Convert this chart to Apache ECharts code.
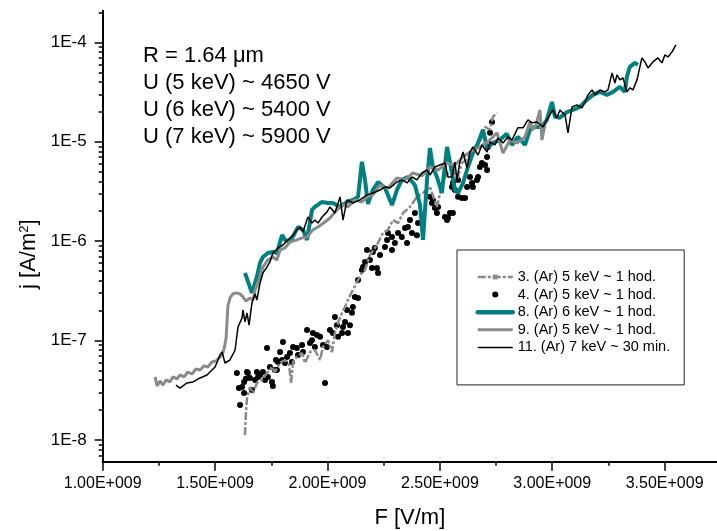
<!DOCTYPE html>
<html><head><meta charset="utf-8">
<script src="https://cdn.jsdelivr.net/npm/echarts@6/dist/echarts.min.js"></script>
<style>html,body{margin:0;padding:0;background:#fff}#c{width:717px;height:531px}</style>
</head><body><div id="c"></div>
<script>
const FONT = '"Liberation Sans", Arial, sans-serif';

const seriesNames = ['3. (Ar) 5 keV ~ 1 hod.', '4. (Ar) 5 keV ~ 1 hod.', '8. (Ar) 6 keV ~ 1 hod.', '9. (Ar) 5 keV ~ 1 hod.', '11. (Ar) 7 keV ~ 30 min.'];
const annotationLines = ['R = 1.64 \u03bcm', 'U (5 keV) ~ 4650 V', 'U (6 keV) ~ 5400 V', 'U (7 keV) ~ 5900 V'];

const xMajorTicks = [1.0e9, 1.5e9, 2.0e9, 2.5e9, 3.0e9, 3.5e9];
const xMinorTicks = [1.25e9, 1.75e9, 2.25e9, 2.75e9, 3.25e9];
const yMajorTicks = [1e-8, 1e-7, 1e-6, 1e-5, 1e-4];
const yMinorTicks = [6e-9, 7e-9, 8e-9, 9e-9,
  2e-8, 3e-8, 4e-8, 5e-8, 6e-8, 7e-8, 8e-8, 9e-8,
  2e-7, 3e-7, 4e-7, 5e-7, 6e-7, 7e-7, 8e-7, 9e-7,
  2e-6, 3e-6, 4e-6, 5e-6, 6e-6, 7e-6, 8e-6, 9e-6,
  2e-5, 3e-5, 4e-5, 5e-5, 6e-5, 7e-5, 8e-5, 9e-5, 2e-4];

// Series 3 (gray dash-dot), F in units of 1e9 V/m
const s3F = [1.633,1.637,1.642,1.655,1.669,1.686,1.709,1.731,1.744,1.753,1.766,1.789,1.811,1.829,1.838,1.847,1.864,1.887,1.900,1.922,1.944,1.967,1.980,2.002,2.020,2.033,2.047,2.065,2.078,2.091,2.113,2.136,2.153,2.167,2.189,2.220,2.247,2.269,2.291,2.314,2.336,2.367,2.398,2.425,2.456,2.487,2.514,2.536,2.558,2.576,2.598,2.621,2.643,2.665,2.687,2.701,2.723,2.736,2.754];
const s3J = [1.12e-8,1.78e-8,2.65e-8,3.41e-8,2.97e-8,3.75e-8,4.02e-8,4.72e-8,5.06e-8,5.43e-8,4.83e-8,5.95e-8,6.38e-8,5.69e-8,3.75e-8,6.10e-8,6.84e-8,7.50e-8,5.95e-8,7.68e-8,8.04e-8,6.38e-8,8.62e-8,1.01e-7,7.68e-8,1.19e-7,1.50e-7,1.90e-7,2.18e-7,2.56e-7,3.23e-7,4.07e-7,4.79e-7,5.13e-7,7.26e-7,9.15e-7,1.21e-6,1.30e-6,1.63e-6,1.52e-6,1.92e-6,2.21e-6,2.79e-6,3.05e-6,3.51e-6,2.21e-6,4.13e-6,4.85e-6,5.57e-6,4.13e-6,6.12e-6,6.56e-6,8.26e-6,8.87e-6,1.12e-5,1.41e-5,1.32e-5,1.78e-5,1.95e-5];

// Series 4 (black dots)
const s4F = [1.597,1.611,1.606,1.620,1.629,1.642,1.655,1.664,1.678,1.686,1.700,1.713,1.722,1.731,1.735,1.744,1.753,1.757,1.775,1.780,1.789,1.798,1.802,1.811,1.820,1.833,1.842,1.847,1.864,1.869,1.887,1.891,1.909,1.922,1.931,1.935,1.944,1.953,1.967,1.980,1.989,1.998,2.011,2.024,2.033,2.042,2.047,2.065,2.069,2.078,2.087,2.091,2.100,2.109,2.113,2.122,2.136,2.136,2.153,2.158,2.167,2.176,2.189,2.198,2.202,2.211,2.220,2.225,2.234,2.256,2.265,2.269,2.287,2.287,2.300,2.314,2.331,2.345,2.354,2.358,2.367,2.376,2.389,2.398,2.403,2.456,2.465,2.469,2.478,2.487,2.492,2.523,2.532,2.536,2.545,2.554,2.558,2.558,2.567,2.581,2.581,2.598,2.612,2.621,2.634,2.643,2.647,2.665,2.670,2.678,2.687,2.701,2.710,2.710,2.714,2.723,2.732,1.637,1.646,1.691,1.766,1.771,1.629];
const s4J = [4.72e-8,2.25e-8,3.33e-8,3.41e-8,3.84e-8,4.83e-8,4.21e-8,3.18e-8,4.02e-8,4.83e-8,4.51e-8,4.83e-8,4.02e-8,8.42e-8,4.31e-8,5.43e-8,3.84e-8,3.49e-8,5.06e-8,6.10e-8,7.68e-8,6.38e-8,9.68e-8,5.95e-8,6.84e-8,7.50e-8,6.10e-8,8.62e-8,8.42e-8,7.16e-8,9.03e-8,7.68e-8,1.28e-7,9.46e-8,1.01e-7,1.19e-7,8.62e-8,1.14e-7,1.09e-7,9.03e-8,3.75e-8,8.62e-8,1.28e-7,1.19e-7,1.73e-7,1.43e-7,1.09e-7,1.19e-7,1.37e-7,1.54e-7,2.03e-7,1.19e-7,1.43e-7,1.90e-7,2.18e-7,2.75e-7,2.68e-7,4.07e-7,5.13e-7,5.50e-7,6.18e-7,8.15e-7,6.47e-7,5.37e-7,7.79e-7,8.55e-7,5.37e-7,4.79e-7,7.26e-7,8.74e-7,1.03e-6,1.21e-6,1.10e-6,8.15e-7,9.59e-7,1.21e-6,1.10e-6,1.36e-6,9.59e-7,1.39e-6,1.63e-6,1.21e-6,1.92e-6,1.15e-6,1.52e-6,2.79e-6,2.42e-6,2.60e-6,2.16e-6,1.92e-6,2.21e-6,1.75e-6,1.63e-6,1.71e-6,1.92e-6,3.51e-6,1.92e-6,3.85e-6,3.27e-6,2.79e-6,4.13e-6,2.72e-6,2.72e-6,3.51e-6,4.42e-6,3.85e-6,3.51e-6,4.13e-6,4.42e-6,5.57e-6,6.12e-6,5.84e-6,5.20e-6,7.03e-6,8.87e-6,1.23e-5,1.58e-5,4.12e-8,4.72e-8,4.31e-8,5.06e-8,6.38e-8,2.97e-8];

// Series 8 (teal)
const s8F = [1.633,1.664,1.686,1.700,1.713,1.735,1.757,1.775,1.798,1.811,1.833,1.855,1.869,1.891,1.909,1.931,1.944,1.976,2.002,2.024,2.056,2.087,2.113,2.136,2.153,2.167,2.180,2.202,2.225,2.256,2.287,2.309,2.331,2.358,2.389,2.412,2.425,2.443,2.456,2.469,2.487,2.509,2.532,2.554,2.567,2.581,2.603,2.625,2.647,2.670,2.692,2.710,2.736,2.767,2.798,2.821,2.847,2.879,2.901,2.923,2.954,2.976,2.999,3.012,3.034,3.065,3.092,3.123,3.154,3.181,3.212,3.243,3.270,3.301,3.323,3.332,3.345,3.368,3.381];
const s8J = [4.79e-7,3.02e-7,4.37e-7,6.04e-7,6.94e-7,7.61e-7,7.79e-7,7.61e-7,1.15e-6,1.03e-6,9.82e-7,1.21e-6,1.39e-6,1.30e-6,1.03e-6,2.06e-6,2.21e-6,2.48e-6,2.42e-6,2.42e-6,2.21e-6,2.48e-6,2.60e-6,2.79e-6,6.26e-6,4.13e-6,2.37e-6,3.27e-6,3.94e-6,3.43e-6,2.31e-6,3.27e-6,4.13e-6,4.42e-6,3.67e-6,2.31e-6,1.03e-6,4.13e-6,8.66e-6,5.57e-6,4.42e-6,3.05e-6,8.87e-6,4.85e-6,3.27e-6,3.05e-6,3.85e-6,5.57e-6,7.70e-6,9.73e-6,1.32e-5,8.66e-6,9.73e-6,1.04e-5,1.20e-5,9.28e-6,1.12e-5,9.28e-6,1.32e-5,1.41e-5,1.41e-5,1.66e-5,2.51e-5,1.78e-5,1.74e-5,1.99e-5,2.09e-5,2.24e-5,2.64e-5,2.96e-5,3.17e-5,2.96e-5,3.17e-5,3.56e-5,3.17e-5,4.49e-5,5.66e-5,6.21e-5,5.93e-5];

// Series 9 (gray solid)
const s9F = [1.233,1.242,1.255,1.268,1.282,1.299,1.313,1.331,1.344,1.362,1.379,1.397,1.415,1.433,1.451,1.468,1.486,1.504,1.517,1.531,1.540,1.549,1.553,1.557,1.566,1.579,1.593,1.611,1.624,1.637,1.655,1.669,1.678,1.700,1.713,1.735,1.757,1.775,1.789,1.811,1.833,1.864,1.887,1.909,1.935,1.958,1.989,2.011,2.042,2.069,2.091,2.122,2.153,2.176,2.202,2.234,2.269,2.309,2.345,2.380,2.420,2.456,2.492,2.532,2.567,2.603,2.634,2.678,2.723,2.754,2.781,2.812,2.843,2.856,2.879,2.901,2.914,2.928,2.945,2.954,2.968];
const s9J = [4.31e-8,3.49e-8,3.93e-8,3.57e-8,4.02e-8,3.84e-8,4.31e-8,4.12e-8,4.51e-8,4.31e-8,4.83e-8,4.61e-8,5.18e-8,5.06e-8,5.56e-8,5.43e-8,6.10e-8,6.24e-8,6.68e-8,7.16e-8,8.23e-8,1.06e-7,1.54e-7,2.23e-7,2.68e-7,2.95e-7,3.02e-7,2.95e-7,2.75e-7,2.50e-7,2.68e-7,2.56e-7,3.23e-7,4.37e-7,5.50e-7,6.47e-7,6.94e-7,6.47e-7,8.15e-7,8.55e-7,9.82e-7,1.03e-6,1.08e-6,1.10e-6,1.30e-6,1.39e-6,1.56e-6,1.71e-6,2.06e-6,2.31e-6,2.21e-6,2.60e-6,2.48e-6,2.79e-6,2.92e-6,3.67e-6,3.43e-6,4.33e-6,4.13e-6,4.85e-6,4.53e-6,5.57e-6,5.20e-6,6.12e-6,5.84e-6,7.03e-6,7.88e-6,8.87e-6,1.04e-5,1.23e-5,7.70e-6,1.04e-5,9.73e-6,1.02e-5,1.12e-5,1.58e-5,1.32e-5,1.48e-5,2.09e-5,1.04e-5,1.48e-5];

// Series 11 (black thin)
const s11F = [1.326,1.344,1.375,1.402,1.433,1.464,1.486,1.500,1.522,1.531,1.544,1.566,1.589,1.602,1.620,1.624,1.633,1.642,1.651,1.664,1.678,1.686,1.700,1.713,1.731,1.744,1.757,1.780,1.802,1.824,1.847,1.864,1.878,1.891,1.913,1.931,1.944,1.958,1.976,1.998,2.011,2.033,2.056,2.069,2.087,2.113,2.144,2.176,2.202,2.234,2.256,2.278,2.309,2.331,2.354,2.376,2.398,2.420,2.443,2.456,2.478,2.500,2.523,2.536,2.554,2.567,2.576,2.589,2.603,2.621,2.634,2.647,2.670,2.687,2.710,2.723,2.745,2.758,2.781,2.803,2.821,2.847,2.870,2.892,2.910,2.932,2.959,2.981,3.003,3.021,3.034,3.057,3.070,3.088,3.110,3.132,3.146,3.159,3.177,3.190,3.212,3.234,3.248,3.266,3.279,3.288,3.301,3.315,3.332,3.345,3.359,3.377,3.399,3.412,3.426,3.448,3.470,3.488,3.501,3.515,3.533,3.550];
const s11J = [3.57e-8,3.33e-8,3.75e-8,3.84e-8,4.21e-8,4.51e-8,5.06e-8,5.43e-8,7.16e-8,7.68e-8,5.95e-8,6.38e-8,8.04e-8,1.37e-7,1.69e-7,2.03e-7,1.54e-7,1.90e-7,1.43e-7,2.39e-7,2.95e-7,2.56e-7,3.80e-7,4.79e-7,5.50e-7,6.18e-7,7.61e-7,8.55e-7,9.15e-7,1.03e-6,1.15e-6,1.30e-6,1.39e-6,1.24e-6,1.75e-6,1.52e-6,1.63e-6,1.52e-6,1.75e-6,1.97e-6,2.21e-6,1.92e-6,2.79e-6,1.63e-6,2.60e-6,2.42e-6,2.60e-6,2.92e-6,3.05e-6,3.27e-6,3.51e-6,3.43e-6,3.94e-6,4.13e-6,3.85e-6,4.42e-6,4.13e-6,4.85e-6,5.20e-6,4.63e-6,5.57e-6,5.84e-6,6.12e-6,4.42e-6,4.42e-6,6.26e-6,4.13e-6,6.26e-6,7.88e-6,5.44e-6,7.88e-6,8.87e-6,7.36e-6,9.28e-6,7.88e-6,9.95e-6,9.28e-6,1.09e-5,9.73e-6,1.12e-5,1.04e-5,1.38e-5,1.38e-5,1.66e-5,1.55e-5,1.58e-5,1.41e-5,1.74e-5,2.09e-5,1.74e-5,2.09e-5,1.86e-5,1.23e-5,2.24e-5,2.35e-5,2.19e-5,2.51e-5,2.96e-5,3.32e-5,2.96e-5,3.32e-5,3.17e-5,3.32e-5,4.92e-5,3.90e-5,4.70e-5,4.19e-5,4.39e-5,3.17e-5,3.48e-5,3.32e-5,4.19e-5,6.97e-5,6.35e-5,5.53e-5,6.35e-5,6.97e-5,6.21e-5,7.47e-5,7.13e-5,8.01e-5,9.42e-5];

const F_UNIT = 1e9;
function pairs(fs, js) { return fs.map((f, i) => [f * F_UNIT, js[i]]); }

const X_MIN = 1.0e9, X_MAX = 3.733e9;
const Y_MIN = 6.05e-9, Y_MAX = 2.08e-4;
const GRAY = '#8a8a8a', TEAL = '#008080';

const chart = echarts.init(document.getElementById('c'), null, { renderer: 'canvas' });

const xLab = v => (v / 1e9).toFixed(2) + 'E+009';
const yLab = v => '1E' + Math.round(Math.log10(v));

const option = {
  animation: false,
  backgroundColor: '#fff',
  textStyle: { fontFamily: FONT },
  grid: { left: 102.7, top: 10.7, right: 0, bottom: 69.3, containLabel: false, outerBoundsMode: 'none' },
  xAxis: [
    {
      type: 'value', min: X_MIN, max: X_MAX, position: 'bottom',
      name: 'F [V/m]', nameLocation: 'middle', nameGap: 45,
      nameTextStyle: { fontSize: 22, color: '#000', fontFamily: FONT },
      axisLine: { show: true, onZero: false, lineStyle: { color: '#000', width: 2 } },
      axisTick: { show: true, inside: false, length: 9, lineStyle: { color: '#000', width: 1.5 }, customValues: xMajorTicks },
      axisLabel: { show: true, margin: 14, fontSize: 16, color: '#000', fontFamily: FONT, formatter: xLab, customValues: xMajorTicks },
      splitLine: { show: false }
    },
    {
      type: 'value', min: X_MIN, max: X_MAX, position: 'bottom',
      axisLine: { show: false, onZero: false },
      axisTick: { show: true, inside: false, length: 4, lineStyle: { color: '#000', width: 1.5 }, customValues: xMinorTicks },
      axisLabel: { show: false },
      splitLine: { show: false }
    }
  ],
  yAxis: [
    {
      type: 'log', logBase: 10, min: Y_MIN, max: Y_MAX, position: 'left',
      name: 'j [A/m{sup|2}]', nameLocation: 'middle', nameGap: 62, nameRotate: 90,
      nameTextStyle: { fontSize: 22, color: '#000', fontFamily: FONT, padding: [0, 36, 0, 0],
        rich: { sup: { fontSize: 13, color: '#000', fontFamily: FONT, verticalAlign: 'top' } } },
      axisLine: { show: true, onZero: false, lineStyle: { color: '#000', width: 2 } },
      axisTick: { show: true, inside: false, length: 8, lineStyle: { color: '#000', width: 1.5 }, customValues: yMajorTicks },
      axisLabel: { show: true, margin: 16, fontSize: 17, color: '#000', fontFamily: FONT, formatter: yLab, customValues: yMajorTicks },
      splitLine: { show: false }, minorTick: { show: false }
    },
    {
      type: 'log', logBase: 10, min: Y_MIN, max: Y_MAX, position: 'left',
      axisLine: { show: false, onZero: false },
      axisTick: { show: true, inside: false, length: 4, lineStyle: { color: '#000', width: 1.5 }, customValues: yMinorTicks },
      axisLabel: { show: false },
      splitLine: { show: false }
    }
  ],
  legend: {
    orient: 'vertical', left: 457, top: 250,
    padding: [19.5, 14, 30, 18.5],
    itemWidth: 35, itemHeight: 6, itemGap: 2.6,
    backgroundColor: '#fff', borderColor: '#222', borderWidth: 1, borderRadius: 0,
    textStyle: { fontSize: 14.5, color: '#000', fontFamily: FONT },
    data: [
      { name: seriesNames[0], lineStyle: { width: 2.5 } },
      { name: seriesNames[1] },
      { name: seriesNames[2], itemStyle: { opacity: 0 }, lineStyle: { width: 4.5, cap: 'round' } },
      { name: seriesNames[3], itemStyle: { opacity: 0 }, lineStyle: { width: 3 } },
      { name: seriesNames[4], itemStyle: { opacity: 0 }, lineStyle: { width: 1.5 } }
    ]
  },
  graphic: annotationLines.map((t, i) => ({
    type: 'text', x: 143, y: 56 + i * 26.9,
    style: { text: t, fill: '#000', font: '22px ' + FONT, verticalAlign: 'middle', align: 'left' }
  })),
  series: [
    { name: seriesNames[0], type: 'line', data: pairs(s3F, s3J), symbol: 'rect', showSymbol: false, symbolSize: 4,
      lineStyle: { color: GRAY, width: 2.5, type: [8, 2, 3, 2] }, itemStyle: { color: GRAY } },
    { name: seriesNames[1], type: 'scatter', data: pairs(s4F, s4J), symbol: 'circle', symbolSize: 6,
      itemStyle: { color: '#000', opacity: 1 } },
    { name: seriesNames[2], type: 'line', data: pairs(s8F, s8J), symbol: 'none',
      lineStyle: { color: TEAL, width: 4 }, itemStyle: { color: TEAL } },
    { name: seriesNames[3], type: 'line', data: pairs(s9F, s9J), symbol: 'none',
      lineStyle: { color: GRAY, width: 3 }, itemStyle: { color: GRAY } },
    { name: seriesNames[4], type: 'line', data: pairs(s11F, s11J), symbol: 'none',
      lineStyle: { color: '#000', width: 1.5 }, itemStyle: { color: '#000' } }
  ]
};
chart.setOption(option);
</script>
</body></html>
